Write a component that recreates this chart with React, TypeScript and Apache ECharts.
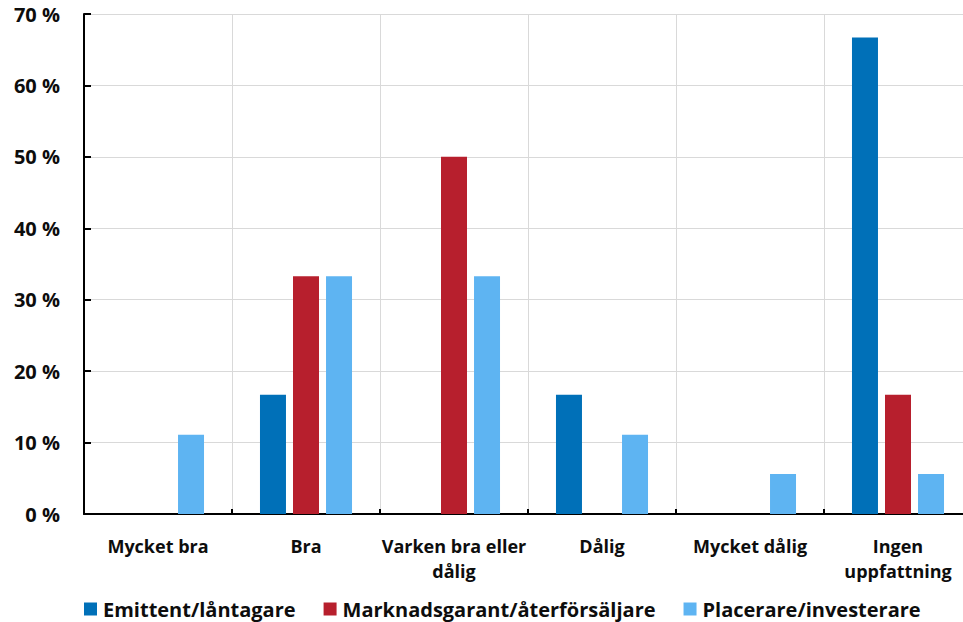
import React, { useEffect, useRef } from "react";
import * as echarts from "echarts";

const categories = [
  "Mycket bra",
  "Bra",
  "Varken bra eller\ndålig",
  "Dålig",
  "Mycket dålig",
  "Ingen\nuppfattning",
];

const seriesNames = [
  "Emittent/låntagare",
  "Marknadsgarant/återförsäljare",
  "Placerare/investerare",
];

const emittent = [0, 16.7, 0, 16.7, 0, 66.7];
const marknadsgarant = [0, 33.3, 50, 0, 0, 16.7];
const placerare = [11.1, 33.3, 33.3, 11.1, 5.6, 5.6];

const colors = ["#0070B8", "#B71F2D", "#5EB4F2"];

const FONT = "'Open Sans', Lato, sans-serif";

export default function App() {
  const ref = useRef<HTMLDivElement>(null);

  useEffect(() => {
    if (!ref.current) return;
    const chart = echarts.init(ref.current, undefined, { renderer: "svg" });
    const data = [emittent, marknadsgarant, placerare];
    chart.setOption({
      animation: false,
      color: colors,
      textStyle: { fontFamily: FONT },
      grid: { left: 84, right: 0, top: 14, bottom: 108, containLabel: false },
      legend: {
        left: 79,
        top: 594,
        itemWidth: 13,
        itemHeight: 13,
        itemGap: 28,
        icon: "rect",
        textStyle: {
          fontFamily: FONT,
          fontWeight: "bold",
          fontSize: 20,
          color: "#0d0d0d",
          padding: [0, 0, 0, 1],
        },
        data: seriesNames,
      },
      xAxis: {
        type: "category",
        data: categories,
        axisLine: { lineStyle: { color: "#000", width: 2 } },
        axisTick: { show: true, inside: true, length: 5, lineStyle: { color: "#000", width: 2 } },
        splitLine: { show: true, lineStyle: { color: "#d9d9d9", width: 1 } },
        axisLabel: {
          fontFamily: FONT,
          fontWeight: "bold",
          fontSize: 18,
          color: "#0d0d0d",
          margin: 19,
          lineHeight: 25,
          interval: 0,
        },
      },
      yAxis: {
        type: "value",
        min: 0,
        max: 70,
        interval: 10,
        axisLine: { show: true, lineStyle: { color: "#000", width: 2 } },
        axisTick: { show: true, inside: true, length: 7, lineStyle: { color: "#000", width: 2 } },
        splitLine: { show: true, lineStyle: { color: "#d9d9d9", width: 1 } },
        axisLabel: {
          fontFamily: FONT,
          fontWeight: "bold",
          fontSize: 20,
          color: "#0d0d0d",
          margin: 24,
          formatter: (v: number) => `${v} %`,
        },
      },
      series: seriesNames.map((name, i) => ({
        name,
        type: "bar",
        data: data[i],
        barWidth: 26,
        barGap: "27%",
        itemStyle: { color: colors[i] },
      })),
    });
    return () => chart.dispose();
  }, []);

  return (
    <div style={{ position: "absolute", left: 0, top: 0, width: 963, height: 622, overflow: "hidden" }}>
      <div ref={ref} style={{ width: 972, height: 622 }} />
    </div>
  );
}
